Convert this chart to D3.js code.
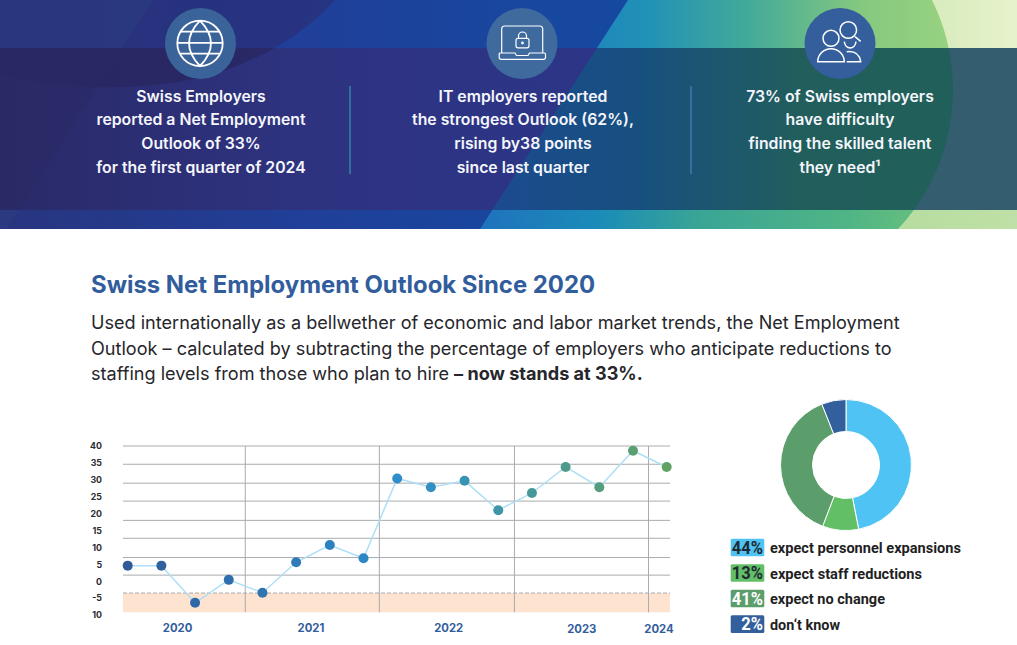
<!DOCTYPE html>
<html>
<head>
<meta charset="utf-8">
<script src="https://cdn.jsdelivr.net/npm/d3@7"></script>
<style>
html, body { margin: 0; padding: 0; background: #fff; overflow: hidden; }
svg { display: block; }
text { font-family: Inter, sans-serif; }
.headline { fill: #f4f6fb; font-size: 15.8px; font-weight: 600; text-anchor: middle; }
.icon { fill: none; stroke: #fff; stroke-width: 1.5; }
.axis path, .axis line { display: none; }
.axis text { font-family: Inter, sans-serif; font-size: 8.8px; font-weight: 700; fill: #2b2b33; }
</style>
</head>
<body>
<svg width="1017" height="645"></svg>
<script>
// chart data
const quarters = ['Q1 2020','Q2 2020','Q3 2020','Q4 2020','Q1 2021','Q2 2021','Q3 2021','Q4 2021','Q1 2022','Q2 2022','Q3 2022','Q4 2022','Q1 2023','Q2 2023','Q3 2023','Q4 2023','Q1 2024'];
const outlook = [4.6, 4.6, -6.4, 0.4, -3.4, 5.6, 10.7, 6.8, 30.4, 27.8, 29.7, 21, 26.1, 33.8, 27.8, 38.6, 33.8];
const tickValues = [40, 35, 30, 25, 20, 15, 10, 5, 0, -5, -10];
const tickLabels = ['40', '35', '30', '25', '20', '15', '10', '5', '0', '-5', '10'];
// the printed grid doesnt line up with the printed labels, so it has its own values
const gridValues = [40, 34.6, 29, 23.7, 18, 12.7, 7, 1.8];
const bandTop = -3.5;
const bandBottom = -9.2;
const years = ['2020', '2021', '2022', '2023', '2024'];
const yearCenters = [1.48, 5.44, 9.53, 13.48, 15.77];
const yearBreaks = [3.49, 7.47, 11.48, 15.46];

const donutLabels = ['expect personnel expansions', 'expect staff reductions', 'expect no change', "don\u2018t know"];
const donutPercents = ['44%', '13%', '41%', '2%'];
const donutDrawn = [46.9, 8.9, 38.2, 6];

const headlines = [
    ['Swiss Employers', 'reported a Net Employment', 'Outlook of 33%', 'for the first quarter of 2024'],
    ['IT employers reported', 'the strongest Outlook (62%),', 'rising by38 points', 'since last quarter'],
    ['73% of Swiss employers', 'have difficulty', 'finding the skilled talent', 'they need\u00b9']
];

const svg = d3.select('svg');
const defs = svg.append('defs');

const addGradient = (id, stops) => {
    const g = defs.append('linearGradient').attr('id', id)
        .attr('gradientUnits', 'userSpaceOnUse')
        .attr('x1', 0).attr('x2', 1017).attr('y1', 0).attr('y2', 0);
    stops.forEach(s => g.append('stop').attr('offset', s[0] / 1017).attr('stop-color', s[1]));
};
addGradient('baseGrad', [[0, '#28357f'], [300, '#203f98'], [560, '#1748a0'], [1017, '#1748a0']]);
addGradient('triTop', [[480, '#2072bd'], [640, '#1f90b8'], [750, '#44aa98'], [860, '#84c880'], [950, '#98d280']]);
addGradient('triBottom', [[480, '#2072bd'], [600, '#1a8cb8'], [700, '#3aa595'], [850, '#50b585'], [900, '#60bc80']]);
addGradient('outTop', [[880, '#cfe8b4'], [1017, '#e6f2cc']]);
addGradient('outBottom', [[880, '#b5dca0'], [1017, '#bfe0a6']]);
addGradient('bandBase', [[0, '#2a2a68'], [300, '#2e3380'], [600, '#2c3587']]);
addGradient('bandTri', [[480, '#1c4a90'], [640, '#17507f'], [800, '#215e5c'], [950, '#21605a']]);

defs.append('clipPath').attr('id', 'tri').append('path').attr('d', 'M628,0 L1017,0 L1017,229 L480,229 Z');
defs.append('clipPath').attr('id', 'outRight').append('rect').attr('x', 800).attr('width', 217).attr('height', 229);

const strips = [[0, 48, 'url(#baseGrad)', 'url(#triTop)', 'url(#outTop)'],
                [48, 162, 'url(#bandBase)', 'url(#bandTri)', '#345e70'],
                [210, 19, 'url(#baseGrad)', 'url(#triBottom)', 'url(#outBottom)']];
const blob = 'M0,0 L335,0 Q285,55 200,78 Q100,98 0,75 Z';
const outside = 'M800,0 H1017 V229 H800 Z M547,90 a203,203 0 1,0 406,0 a203,203 0 1,0 -406,0 Z';

// banner background, one clipped copy per strip
const banner = svg.append('g');
strips.forEach((s, i) => {
    defs.append('clipPath').attr('id', 'strip' + i).append('rect')
        .attr('y', s[0]).attr('width', 1017).attr('height', s[1]);
    const g = banner.append('g').attr('clip-path', `url(#strip${i})`);
    g.append('rect').attr('width', 1017).attr('height', 229).attr('fill', s[2]);
    g.append('path').attr('d', blob).attr('fill', i === 1 ? '#28265e' : '#2a2f78').attr('opacity', 0.72);
    g.append('path').attr('d', 'M0,0 L153,0 L7,229 L0,229 Z').attr('fill', i === 1 ? '#2b2a66' : '#2c3c80').attr('opacity', 0.6);
    g.append('g').attr('clip-path', 'url(#tri)')
        .append('rect').attr('width', 1017).attr('height', 229).attr('fill', s[3]);
    g.append('g').attr('clip-path', 'url(#outRight)')
        .append('path').attr('d', outside).attr('fill-rule', 'evenodd').attr('fill', s[4]);
});

// dividers
[350, 691].forEach(x => {
    banner.append('rect').attr('x', x - 1).attr('y', 86).attr('width', 2).attr('height', 88).attr('fill', '#33709f');
});

// icons
const iconCircles = [[200.5, '#3a6399'], [522, '#3f6a9e'], [840, '#355e9c']];
iconCircles.forEach(c => {
    banner.append('circle').attr('cx', c[0]).attr('cy', 43.5).attr('r', 35.5).attr('fill', c[1]);
});
const globe = banner.append('g').attr('class', 'icon').style('stroke-width', 1.8);
globe.append('circle').attr('cx', 200).attr('cy', 43.3).attr('r', 22.7);
globe.append('path').attr('d', 'M200,20.6 Q178,43.3 200,66 Q222,43.3 200,20.6 M180,31.7 H220 M177.3,42.9 H222.7 M180,53.6 H220');
const laptop = banner.append('g').attr('class', 'icon').style('stroke-width', 1.2);
laptop.append('path').attr('d', 'M501.7,53 V29 a3,3 0 0 1 3,-3 H539.7 a3,3 0 0 1 3,3 V53');
laptop.append('path').attr('d', 'M500.5,53 H515 l1.5,2.5 H528 l1.5,-2.5 H544.5 a1,1 0 0 1 1,1 V57.5 a1.8,1.8 0 0 1 -1.8,1.8 H501 a1.8,1.8 0 0 1 -1.8,-1.8 V54 a1,1 0 0 1 1.2,-1 Z');
laptop.append('rect').attr('x', 516).attr('y', 38.3).attr('width', 13).attr('height', 9.5).attr('rx', 2);
laptop.append('path').attr('d', 'M518.5,38.3 V36 a4,4 0 0 1 8,0 V38.3');
laptop.append('circle').attr('cx', 522.5).attr('cy', 43).attr('r', 0.8);
const people = banner.append('g').attr('class', 'icon');
people.append('circle').attr('cx', 831).attr('cy', 38.3).attr('r', 8);
people.append('path').attr('d', 'M817.7,61.7 a13.3,13 0 0 1 26.6,0 Z');
people.append('circle').attr('cx', 848.3).attr('cy', 30).attr('r', 8.3);
people.append('path').attr('d', 'M855,36.7 L860.7,41.3');
people.append('path').attr('d', 'M844.3,41.7 a5.9,7.3 0 0 0 11.7,0');
people.append('path').attr('d', 'M846.7,51.7 Q859,50.5 860.7,61.7 H846.7');

// headline text
const headlineX = [201, 523, 840];
const headlineY = [101.5, 125, 149, 172.5];
headlines.forEach((lines, i) => {
    lines.forEach((line, j) => {
        banner.append('text').attr('class', 'headline')
            .attr('x', headlineX[i]).attr('y', headlineY[j]).text(line);
    });
});

// intro text
svg.append('text').attr('x', 91).attr('y', 293)
    .style('font-size', '23.9px').style('font-weight', 700).attr('fill', '#325d9c')
    .text('Swiss Net Employment Outlook Since 2020');
const bodyLines = [
    'Used internationally as a bellwether of economic and labor market trends, the Net Employment',
    'Outlook \u2013 calculated by subtracting the percentage of employers who anticipate reductions to',
    'staffing levels from those who plan to hire '
];
const bodyY = [329, 354.5, 380];
bodyLines.forEach((line, i) => {
    const t = svg.append('text').attr('x', 91).attr('y', bodyY[i])
        .style('font-size', '18.1px').attr('fill', '#26262b').style('white-space', 'pre').text(line);
    if (i === 2) t.append('tspan').style('font-weight', 700).text('\u2013 now stands at 33%.');
});

// line chart
const x = d3.scaleLinear().domain([0, quarters.length - 1]).range([127.7, 666.7]);
const y = d3.scaleLinear().domain([-10, 40]).range([615, 446]);
const gridLeft = 123;
const gridRight = 670;
const chart = svg.append('g');

chart.append('rect').attr('x', gridLeft).attr('width', gridRight - gridLeft)
    .attr('y', y(bandTop)).attr('height', y(bandBottom) - y(bandTop)).attr('fill', '#fde3d0');
chart.selectAll('.grid').data(gridValues).enter().append('line')
    .attr('x1', gridLeft).attr('x2', gridRight)
    .attr('y1', d => y(d)).attr('y2', d => y(d))
    .attr('stroke', '#a9abae').attr('stroke-width', 1);
chart.append('line').attr('x1', gridLeft).attr('x2', gridRight)
    .attr('y1', y(bandTop)).attr('y2', y(bandTop))
    .attr('stroke', '#a9abae').attr('stroke-dasharray', '4 2');
chart.selectAll('.year-break').data(yearBreaks).enter().append('line')
    .attr('x1', d => x(d)).attr('x2', d => x(d))
    .attr('y1', y(40)).attr('y2', y(bandBottom))
    .attr('stroke', '#a9abae');

const lineGen = d3.line().x((d, i) => x(i)).y(d => y(d));
chart.append('path').attr('d', lineGen(outlook))
    .attr('fill', 'none').attr('stroke', '#aedff6').attr('stroke-width', 1.5);

const dotColor = d3.scaleLinear().domain([0, 8, 11, 16])
    .range(['#2f5c99', '#2e8dcb', '#3f96a9', '#62a163']);
chart.selectAll('.dot').data(outlook).enter().append('circle')
    .attr('cx', (d, i) => x(i)).attr('cy', d => y(d)).attr('r', 5)
    .attr('fill', (d, i) => dotColor(i));

chart.append('g').attr('class', 'axis')
    .attr('transform', 'translate(106,0)')
    .call(d3.axisLeft(y).tickValues(tickValues).tickSize(0)
        .tickFormat((d, i) => tickLabels[i]).tickPadding(4));

chart.selectAll('.year').data(years).enter().append('text')
    .attr('x', (d, i) => x(yearCenters[i])).attr('y', (d, i) => i > 2 ? 633 : 632)
    .attr('text-anchor', 'middle').style('font-size', '11.3px').style('font-weight', 700)
    .attr('fill', '#325d9c').text(d => d);

// donut
const donutColors = ['#4fc3f3', '#63bf66', '#5c9e6b', '#33609c'];
const pie = d3.pie().sort(null);
const arc = d3.arc().innerRadius(33.5).outerRadius(65.5);
svg.append('g').attr('transform', 'translate(846,465)')
    .selectAll('path').data(pie(donutDrawn)).enter().append('path')
    .attr('d', arc).attr('fill', (d, i) => donutColors[i])
    .attr('stroke', '#fff').attr('stroke-width', 1);

// legend
const legendY = d3.scalePoint().domain(donutLabels).range([538.7, 615.3]);
const legendTextColors = ['#1f2a35', '#1f2a35', '#fff', '#fff'];
const legendWidths = [191, 152, 115, 70];
const legend = svg.selectAll('.legend').data(donutLabels).enter().append('g')
    .attr('transform', d => `translate(0,${legendY(d)})`);
legend.append('rect').attr('x', 730.7).attr('width', 33.6).attr('height', 17.6).attr('rx', 1.5)
    .attr('fill', (d, i) => donutColors[i]);
legend.append('text').attr('x', 763).attr('y', 15).attr('text-anchor', 'end')
    .style('font-family', 'Roboto').style('font-size', '18px').style('font-weight', 700)
    .attr('fill', (d, i) => legendTextColors[i])
    .attr('transform', 'translate(763,0) scale(0.92,1) translate(-763,0)')
    .text((d, i) => donutPercents[i]);
legend.append('text').attr('x', 770).attr('y', 14.5)
    .style('font-family', 'Roboto').style('font-size', '14px').style('font-weight', 700)
    .attr('fill', '#1f1f24')
    .attr('textLength', (d, i) => legendWidths[i]).attr('lengthAdjust', 'spacingAndGlyphs')
    .text(d => d);
</script>
</body>
</html>
